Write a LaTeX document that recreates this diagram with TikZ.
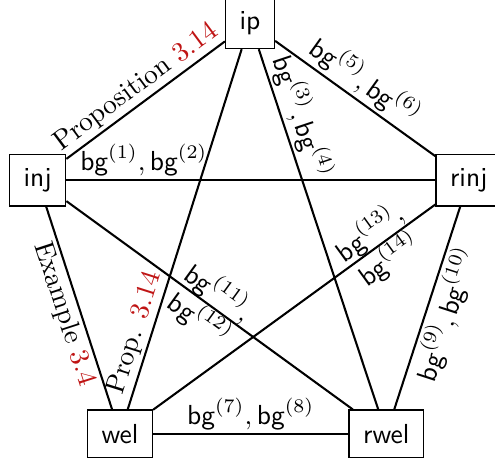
\documentclass[tikz,border=0pt]{standalone}
\usepackage{xcolor}
\definecolor{refred}{rgb}{0.75,0.08,0.08}
\newcommand{\bgx}[1]{\textsf{bg}^{(#1)}}
\begin{document}
\begin{tikzpicture}[x=0.3636pt,y=-0.3636pt,
  vbox/.style={draw,line width=0.5pt,inner sep=5.1pt,font=\sffamily},
  edge/.style={line width=0.75pt},
  lab/.style={inner sep=1pt}]
\useasboundingbox (0,0) rectangle (495,466);
\node[vbox] (ip) at (250,22.8) {ip};
\node[vbox] (inj) at (37.6,180.2) {inj};
\node[vbox] (rinj) at (468.8,180.2) {rinj};
\node[vbox] (wel) at (120,433.8) {wel};
\node[vbox] (rwel) at (386.3,433.8) {rwel};
\draw[edge] (ip) -- node[lab,pos=0.5,sloped,above] {Proposition \textcolor{refred}{3.14}} (inj);
\draw[edge] (inj) -- node[lab,pos=0.21,above] {$\bgx{1}, \bgx{2}$} (rinj);
\draw[edge] (ip) -- node[lab,pos=0.49,sloped,above] {$\bgx{5}, \bgx{6}$} (rinj);
\draw[edge] (ip) -- node[lab,pos=0.205,sloped,above] {$\bgx{3}, \bgx{4}$} (rwel);
\draw[edge] (ip) -- node[lab,pos=0.8,sloped,above] {Prop. \textcolor{refred}{3.14}} (wel);
\draw[edge] (inj) -- node[lab,pos=0.505,sloped,below] {Example \textcolor{refred}{3.4}} (wel);
\draw[edge] (inj) -- node[lab,midway,sloped,align=center] {$\bgx{11}$,\\ $\bgx{12}$} (rwel);
\draw[edge] (wel) -- node[lab,pos=0.8,sloped,align=center] {$\bgx{13}$,\\ $\bgx{14}$} (rinj);
\draw[edge] (wel) -- node[lab,midway,above] {$\bgx{7}, \bgx{8}$} (rwel);
\draw[edge] (rwel) -- node[lab,midway,sloped,below] {$\bgx{9}, \bgx{10}$} (rinj);
\end{tikzpicture}
\end{document}
